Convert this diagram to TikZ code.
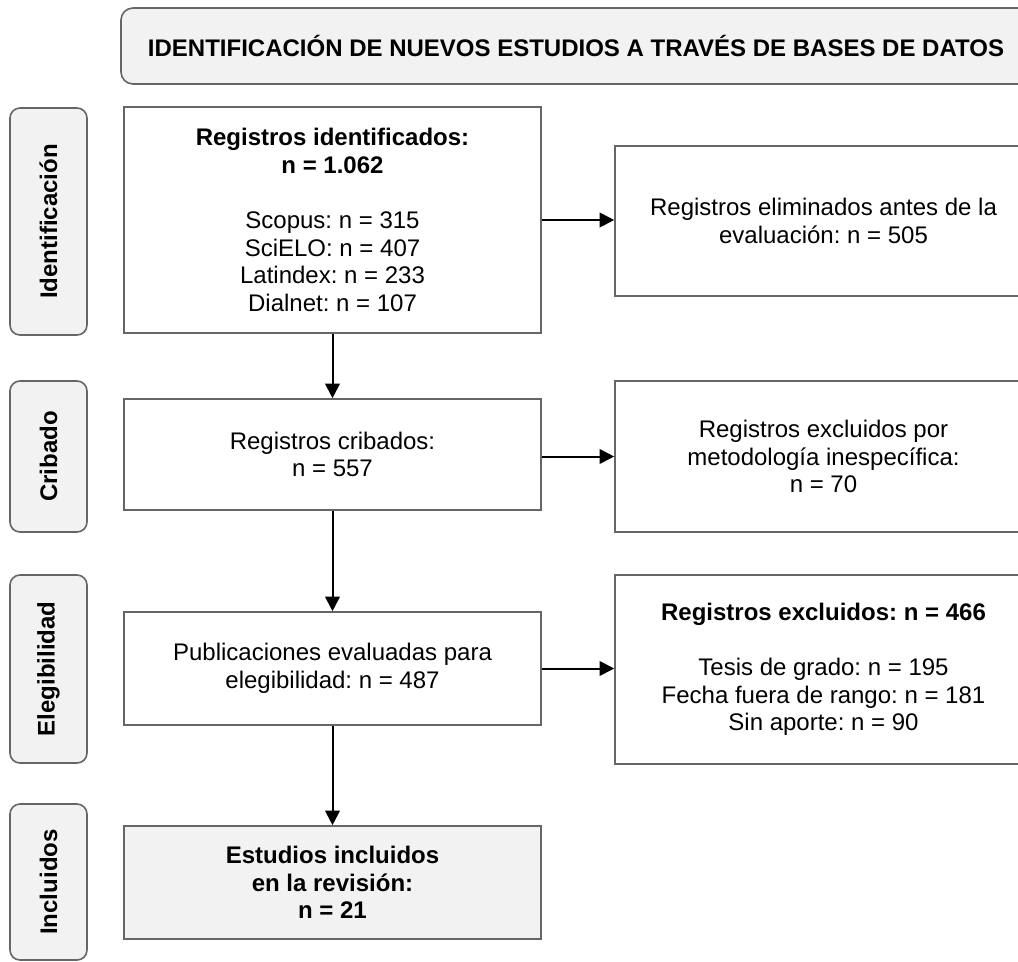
\documentclass[tikz,border=0pt]{standalone}
\usepackage{fontspec}
\setmainfont{Liberation Sans}
\frenchspacing
\usetikzlibrary{positioning}
\usetikzlibrary{calc}
\usetikzlibrary{arrows.meta}
\definecolor{boxline}{HTML}{666666}
\definecolor{boxfill}{HTML}{F2F2F2}
\tikzset{>={Triangle[length=11pt,width=11pt]}}
\tikzset{every node/.style={font=\fontsize{18pt}{20.7pt}\selectfont}}
\tikzset{header/.style={rectangle, rounded corners=9pt, draw=boxline, fill=boxfill, line width=1.2pt, minimum width=682.5pt, minimum height=57pt, font=\fontsize{18pt}{20.7pt}\selectfont\bfseries}}
\tikzset{stage/.style={rectangle, rounded corners=7.5pt, draw=boxline, fill=boxfill, line width=1.2pt, rotate=90, minimum height=57.75pt, minimum width=#1, font=\fontsize{18pt}{20.7pt}\selectfont\bfseries}}
\tikzset{record/.style={rectangle, draw=boxline, line width=1.2pt, minimum width=312.75pt, minimum height=#1, align=center}}
\tikzset{flow/.style={->, line width=1.5pt}}

\begin{document}
\begin{tikzpicture}[x=0.75pt, y=-0.75pt]
    \useasboundingbox (0,0) rectangle (1018,961);
    \clip (0,0) rectangle (1018,961);

    \node [header] (hdr) at (576,46) {IDENTIFICACIÓN DE NUEVOS ESTUDIOS A TRAVÉS DE BASES DE DATOS};

    % Stage labels on the left.
    \node [stage=170.25pt] (sId) at (48.5,221.5) {Identificación};
    \node [stage=113.25pt] (sCrib) at (48.5,456.5) {Cribado};
    \node [stage=141pt] (sEleg) at (48.5,669) {Elegibilidad};
    \node [stage=117pt] (sIncl) at (48.5,882) {Incluidos};

    % Main column.
    \node [record=169.5pt] (b1) at (332.5,220) {\textbf{Registros identificados:}\\ \textbf{n = 1.062}\\[20.7pt]
        Scopus: n = 315\\ SciELO: n = 407\\ Latindex: n = 233\\ Dialnet: n = 107};
    \node [record=83.25pt] (b2) at ($(b1) + (0,234.5)$) {Registros cribados:\\ n = 557};
    \node [record=84.75pt] (b3) at ($(b2) + (0,214)$) {Publicaciones evaluadas para\\ elegibilidad: n = 487};
    \node [record=84.75pt, fill=boxfill, font=\fontsize{18pt}{20.7pt}\selectfont\bfseries] (b4) at ($(b3) + (0,214)$)
        {Estudios incluidos\\ en la revisión:\\ n = 21};

    % Excluded records on the right.
    \node [record=112.5pt] (r1) at (823.5,221) {Registros eliminados antes de la\\ evaluación: n = 505};
    \node [record=113.25pt] (r2) at (823.5,456.5) {Registros excluidos por\\ metodología inespecífica:\\ n = 70};
    \node [record=141.75pt] (r3) at (823.5,669.5) {\textbf{Registros excluidos: n = 466}\\[20.7pt]
        Tesis de grado: n = 195\\ Fecha fuera de rango: n = 181\\ Sin aporte: n = 90};

    \draw [flow] (b1.south) -- (b2.north);
    \draw [flow] (b2.south) -- (b3.north);
    \draw [flow] (b3.south) -- (b4.north);

    \draw [flow] (b1.east) -- (b1.east -| r1.west);
    \draw [flow] (r2.west -| b2.east) -- (r2.west);
    \draw [flow] (b3.east) -- (b3.east -| r3.west);
\end{tikzpicture}
\end{document}
